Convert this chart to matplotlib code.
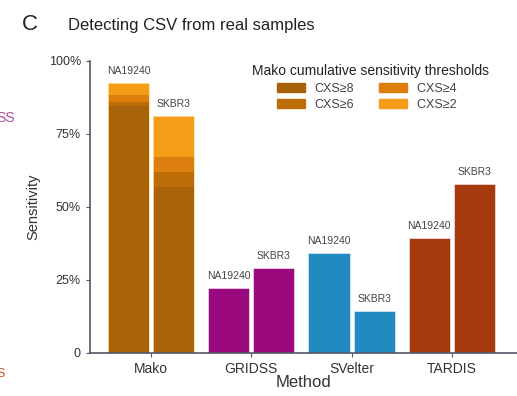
import numpy as np
import matplotlib.pyplot as plt
from matplotlib.patches import Patch

plt.rcParams['font.family'] = ['Liberation Sans', 'DejaVu Sans']

methods = ['Mako', 'GRIDSS', 'SVelter', 'TARDIS']
samples = ['NA19240', 'SKBR3']

# Mako cumulative layers (largest threshold drawn last)
thresholds = ['CXS\u22652', 'CXS\u22654', 'CXS\u22656', 'CXS\u22658']
mako_na = [0.925, 0.885, 0.86, 0.845]
mako_sk = [0.81, 0.67, 0.62, 0.57]
mako_colors = ['#f59c18', '#dc7f0e', '#bd6d08', '#a8620a']

other_na = [0.222, 0.342, 0.394]
other_sk = [0.29, 0.144, 0.578]
other_colors = ['#9a0a7e', '#1f89c0', '#a63a0c']

fig = plt.figure(figsize=(5.17, 3.96), dpi=100)
ax = fig.add_axes([0.174, 0.1086, 0.826, 0.7374])

x = np.arange(len(methods))
w = 0.41
off = 0.225
lab_col = '#444444'
lab_fs = 7.5

for vals, sgn, name in [(mako_na, -1, samples[0]), (mako_sk, 1, samples[1])]:
    for v, c in zip(vals, mako_colors):
        ax.bar(x[0] + sgn * off, v, w, color=c, linewidth=0)
    ax.bar(x[0] + sgn * off, vals[0], w, fill=False, edgecolor='#ffe39a', linewidth=0.6)
    ax.text(x[0] + sgn * off, vals[0] + 0.025, name, ha='center', va='bottom',
            fontsize=lab_fs, color=lab_col)

for i in range(3):
    for v, sgn, name in [(other_na[i], -1, samples[0]), (other_sk[i], 1, samples[1])]:
        ax.bar(x[i + 1] + sgn * off, v, w, color=other_colors[i],
               edgecolor='#f4f4ff', linewidth=0.4)
        ax.text(x[i + 1] + sgn * off, v + 0.025, name, ha='center', va='bottom',
                fontsize=lab_fs, color=lab_col)

ax.set_xlim(-0.61, 3.65)
ax.set_ylim(0, 1)
ax.set_yticks([0, 0.25, 0.5, 0.75, 1.0])
ax.set_yticklabels(['0', '25%', '50%', '75%', '100%'])
ax.set_xticks(x)
ax.set_xticklabels(methods)
for s in ['top', 'right']:
    ax.spines[s].set_visible(False)
for s in ['left', 'bottom']:
    ax.spines[s].set_color('#55556a')
    ax.spines[s].set_linewidth(1.2)
ax.tick_params(colors='#55556a', labelcolor='#333333', length=3)
ax.tick_params(axis='y', labelsize=9)
ax.tick_params(axis='x', labelsize=10)
ax.set_ylabel('Sensitivity', fontsize=10.5, color='#333333', labelpad=6)
ax.set_xlabel('Method', fontsize=12, color='#333333', labelpad=-1)

handles = [Patch(color=mako_colors[3]), Patch(color=mako_colors[2]),
           Patch(color=mako_colors[1]), Patch(color=mako_colors[0])]
labels = [thresholds[3], thresholds[2], thresholds[1] + '  ', thresholds[0] + '  ']
leg = fig.legend(handles, labels, ncol=2, loc='upper center',
                 bbox_to_anchor=(0.716, 0.866), frameon=False,
                 title='Mako cumulative sensitivity thresholds',
                 fontsize=9, title_fontsize=10, handlelength=2.2,
                 handleheight=0.7, columnspacing=2.0, labelspacing=0.35,
                 handletextpad=0.8)
for t in leg.get_texts():
    t.set_color('#444444')
leg.get_title().set_color('#222222')

fig.text(0.042, 0.924, 'C', fontsize=16, color='#222222', va='baseline')
fig.text(0.132, 0.924, 'Detecting CSV from real samples', fontsize=12,
         color='#222222', va='baseline')

# fragments of the neighbouring panel
fig.text(-0.008, 0.702, 'SS', fontsize=10, color='#b04aa0', va='center')
fig.text(-0.006, 0.055, 'S', fontsize=9, color='#c8581a', va='center')

fig.savefig('out.png', dpi=100)
